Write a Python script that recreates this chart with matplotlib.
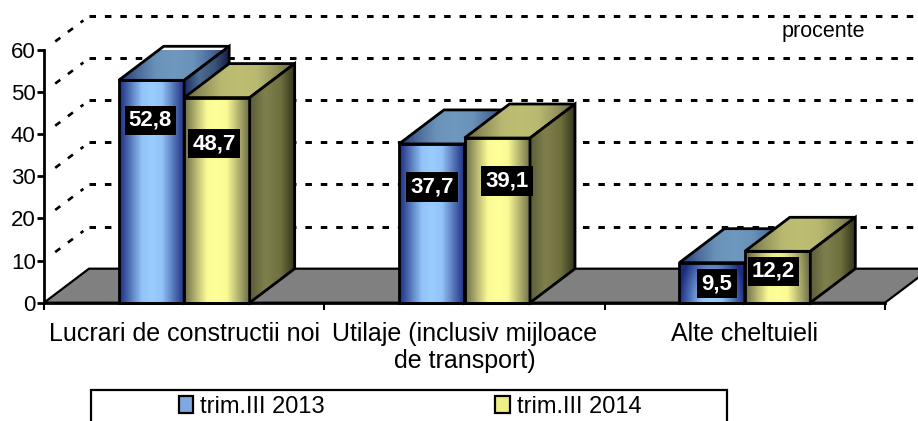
import numpy as np
import matplotlib
matplotlib.use("Agg")
import matplotlib.pyplot as plt
from matplotlib.colors import LinearSegmentedColormap
from matplotlib.patches import Patch, Polygon, Rectangle

plt.rcParams['font.family'] = ['Liberation Sans', 'DejaVu Sans']

categories = ["Lucrari de constructii noi", "Utilaje (inclusiv mijloace\nde transport)", "Alte cheltuieli"]
series_names = ["trim.III 2013", "trim.III 2014"]
values_2013 = [52.8, 37.7, 9.5]
values_2014 = [48.7, 39.1, 12.2]
value_labels_2013 = ["52,8", "37,7", "9,5"]
value_labels_2014 = ["48,7", "39,1", "12,2"]
y_ticks = [0, 10, 20, 30, 40, 50, 60]

# label shift from the bar top centre, pixels
label_shift_2013 = [(-1, -40), (0, -43), (5, -21)]
label_shift_2014 = [(-3, -46), (10, -43), (-4, -20)]

W, H = 918, 421
DEPTH_X = 45 / 280.33
DEPTH_Y = 34 / 4.21
BAR_W = 65.5 / 280.33

blue_front = LinearSegmentedColormap.from_list("bf", [(0, "#99ccff"), (0.3, "#93c4f8"), (0.65, "#5578ba"), (1, "#1c2b80")])
blue_top = LinearSegmentedColormap.from_list("bt", ["#7099bf", "#6a92b8", "#4a6a9a", "#23336f"])
blue_side = LinearSegmentedColormap.from_list("bs", ["#1b2a60", "#4c6c90", "#3a5478", "#101a45"])
yellow_front = LinearSegmentedColormap.from_list("yf", [(0, "#ffff99"), (0.3, "#fbfb96"), (0.65, "#b4b470"), (1, "#6c6c46")])
yellow_top = LinearSegmentedColormap.from_list("yt", ["#bfbf73", "#b8b870", "#94945c", "#66663c"])
yellow_side = LinearSegmentedColormap.from_list("ys", ["#5c5c38", "#80804e", "#70703f", "#2e2e18"])

fig = plt.figure(figsize=(W / 100, H / 100), dpi=100)
ax = fig.add_axes([44 / W, 1 - 302.7 / H, 841 / W, 252.7 / H])
ax.set_xlim(0, 3)
ax.set_ylim(0, 60)
ax.set_autoscale_on(False)
ax.patch.set_visible(False)


def face(pts, cmap, z, mode="edge", value=None):
    pts = np.array(pts)
    x0, x1 = pts[:, 0].min(), pts[:, 0].max()
    y0, y1 = pts[:, 1].min(), pts[:, 1].max()
    u = np.linspace(-1, 1, 200)
    v = np.linspace(1, 0, 100)
    uu, vv = np.meshgrid(u, v)
    if mode == "edge":
        t = np.abs(uu)
        if value is not None and value < 20:
            t = np.hypot(uu, vv * (20 / value - 1) * 0.6)
    else:
        t = (uu + 1) / 2
    im = ax.imshow(np.clip(t, 0, 1), cmap=cmap, vmin=0, vmax=1, extent=(x0, x1, y0, y1), aspect="auto", zorder=z, interpolation="bilinear")
    outline = Polygon(pts, closed=True, fill=False, edgecolor="black", lw=2, zorder=z + 0.1, clip_on=False, joinstyle="miter")
    ax.add_patch(outline)
    im.set_clip_path(outline)


def bar3d(x, value, front, top, side, z):
    r = x + BAR_W
    face([(x, 0), (r, 0), (r, value), (x, value)], front, z, "edge", value)
    face([(x, value), (r, value), (r + DEPTH_X, value + DEPTH_Y), (x + DEPTH_X, value + DEPTH_Y)], top, z + 0.2)
    face([(r, 0), (r + DEPTH_X, DEPTH_Y), (r + DEPTH_X, value + DEPTH_Y), (r, value)], side, z + 0.4, "side")


# back wall dashes and the diagonals going to the axis
dash = (0, (2.17, 2.97))
for v in y_ticks[1:]:
    ax.plot([DEPTH_X, 3.2], [v + DEPTH_Y, v + DEPTH_Y], color="black", lw=2.16, ls=dash, clip_on=False, zorder=1)
    ax.plot([0.04, DEPTH_X - 0.02], [v + 0.25 * DEPTH_Y, v + 0.87 * DEPTH_Y], color="black", lw=1.9, ls=(0, (2.4, 3.6)), clip_on=False, zorder=1)

# floor
ax.add_patch(Polygon([(0, 0), (3, 0), (3 + DEPTH_X, DEPTH_Y), (DEPTH_X, DEPTH_Y)], closed=True, facecolor="#808080", edgecolor="black", lw=1.6, clip_on=False, zorder=1.5))

centres = np.arange(len(categories)) + 0.5
for i, c in enumerate(centres):
    bar3d(c - BAR_W, values_2013[i], blue_front, blue_top, blue_side, 3 + i)
    bar3d(c, values_2014[i], yellow_front, yellow_top, yellow_side, 3.5 + i)
    for val, txt, shift, x in [(values_2013[i], value_labels_2013[i], label_shift_2013[i], c - BAR_W / 2),
                               (values_2014[i], value_labels_2014[i], label_shift_2014[i], c + BAR_W / 2)]:
        ax.annotate(txt, (x, val), xytext=shift, textcoords="offset pixels", ha="center", va="center",
                    color="white", fontweight="bold", fontsize=16, zorder=10, annotation_clip=False,
                    bbox=dict(facecolor="black", edgecolor="none", pad=3))

for s in ["top", "right"]:
    ax.spines[s].set_visible(False)
for s in ["left", "bottom"]:
    ax.spines[s].set_linewidth(2)
    ax.spines[s].set_zorder(8)
ax.set_yticks(y_ticks)
ax.tick_params(axis="y", length=5, width=2, labelsize=16, pad=1)
ax.set_xticks([0, 1, 2, 3])
ax.set_xticklabels([])
ax.tick_params(axis="x", which="major", length=5, width=1.5)
ax.set_xticks(centres, minor=True)
ax.set_xticklabels(categories, minor=True, fontsize=18, linespacing=1.15)
ax.tick_params(axis="x", which="minor", length=0, pad=14)

ax.text(823, H - 32, "procente", transform=None, ha="center", va="center", fontsize=15.5)

# legend box runs off the bottom of the picture
fig.add_artist(Rectangle((90.5 / W, -0.05), (727 - 90.5) / W, (H - 390) / H + 0.05, transform=fig.transFigure, facecolor="white", edgecolor="black", lw=1.6))
handles = [Patch(facecolor="#7fa8e0", edgecolor="black", lw=1.6), Patch(facecolor="#eeee88", edgecolor="black", lw=1.6)]
fig.legend(handles, series_names, ncol=2, frameon=False, fontsize=17, loc="center", bbox_to_anchor=(410 / W, 1 - 407 / H),
           handlelength=0.62, handleheight=0.7, handletextpad=0.3, columnspacing=7.2, borderpad=0, borderaxespad=0)

fig.savefig("out.png", dpi=100)
